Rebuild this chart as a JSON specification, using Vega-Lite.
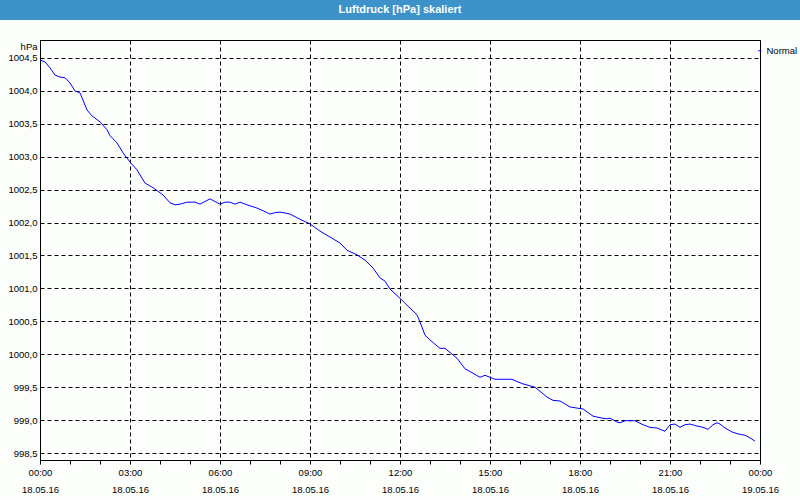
{
  "$schema": "https://vega.github.io/schema/vega-lite/v6.json",
  "background": "#fcfefc",
  "padding": {"left": 0, "top": 0, "right": 0, "bottom": 4},
  "bounds": "flush",
  "center": true,
  "spacing": 20,
  "config": {
    "font": "Liberation Sans",
    "axis": {"labelFont": "Liberation Sans", "labelFontSize": 9.5, "labelColor": "#000000", "titleColor": "#000000", "domainColor": "#000000", "tickColor": "#000000"},
    "legend": {"labelFont": "Liberation Sans", "labelFontSize": 9.5, "labelColor": "#000000"}
  },
  "vconcat": [
    {
      "width": 800,
      "height": 20,
      "view": {"fill": "#3d93c9", "stroke": null},
      "data": {"values": [{"title": "Luftdruck [hPa] skaliert"}]},
      "mark": {"type": "text", "font": "Liberation Sans", "fontSize": 11, "fontWeight": "bold", "color": "#ffffff", "align": "center", "baseline": "middle"},
      "encoding": {"text": {"field": "title", "type": "nominal"}}
    },
    {
      "width": 720,
      "height": 420,
      "view": {"stroke": "#000000", "strokeWidth": 1},
      "data": {"values": [
        {"t": "2016-05-18T00:00:00Z", "p": 1004.47},
        {"t": "2016-05-18T00:10:00Z", "p": 1004.44},
        {"t": "2016-05-18T00:20:00Z", "p": 1004.35},
        {"t": "2016-05-18T00:30:00Z", "p": 1004.24},
        {"t": "2016-05-18T00:40:00Z", "p": 1004.21},
        {"t": "2016-05-18T00:50:00Z", "p": 1004.20},
        {"t": "2016-05-18T01:00:00Z", "p": 1004.12},
        {"t": "2016-05-18T01:10:00Z", "p": 1004.00},
        {"t": "2016-05-18T01:20:00Z", "p": 1003.97},
        {"t": "2016-05-18T01:26:00Z", "p": 1003.86},
        {"t": "2016-05-18T01:34:00Z", "p": 1003.71},
        {"t": "2016-05-18T01:44:00Z", "p": 1003.62},
        {"t": "2016-05-18T02:00:00Z", "p": 1003.53},
        {"t": "2016-05-18T02:14:00Z", "p": 1003.41},
        {"t": "2016-05-18T02:20:00Z", "p": 1003.32},
        {"t": "2016-05-18T02:34:00Z", "p": 1003.21},
        {"t": "2016-05-18T02:46:00Z", "p": 1003.06},
        {"t": "2016-05-18T03:00:00Z", "p": 1002.92},
        {"t": "2016-05-18T03:14:00Z", "p": 1002.80},
        {"t": "2016-05-18T03:30:00Z", "p": 1002.60},
        {"t": "2016-05-18T03:46:00Z", "p": 1002.53},
        {"t": "2016-05-18T04:06:00Z", "p": 1002.42},
        {"t": "2016-05-18T04:20:00Z", "p": 1002.30},
        {"t": "2016-05-18T04:30:00Z", "p": 1002.27},
        {"t": "2016-05-18T04:40:00Z", "p": 1002.28},
        {"t": "2016-05-18T04:54:00Z", "p": 1002.31},
        {"t": "2016-05-18T05:10:00Z", "p": 1002.31},
        {"t": "2016-05-18T05:20:00Z", "p": 1002.28},
        {"t": "2016-05-18T05:40:00Z", "p": 1002.36},
        {"t": "2016-05-18T06:00:00Z", "p": 1002.28},
        {"t": "2016-05-18T06:10:00Z", "p": 1002.31},
        {"t": "2016-05-18T06:20:00Z", "p": 1002.31},
        {"t": "2016-05-18T06:30:00Z", "p": 1002.28},
        {"t": "2016-05-18T06:40:00Z", "p": 1002.31},
        {"t": "2016-05-18T06:54:00Z", "p": 1002.27},
        {"t": "2016-05-18T07:14:00Z", "p": 1002.22},
        {"t": "2016-05-18T07:26:00Z", "p": 1002.18},
        {"t": "2016-05-18T07:40:00Z", "p": 1002.13},
        {"t": "2016-05-18T07:50:00Z", "p": 1002.15},
        {"t": "2016-05-18T08:00:00Z", "p": 1002.16},
        {"t": "2016-05-18T08:20:00Z", "p": 1002.13},
        {"t": "2016-05-18T08:40:00Z", "p": 1002.05},
        {"t": "2016-05-18T09:00:00Z", "p": 1001.98},
        {"t": "2016-05-18T09:20:00Z", "p": 1001.87},
        {"t": "2016-05-18T09:40:00Z", "p": 1001.78},
        {"t": "2016-05-18T10:00:00Z", "p": 1001.69},
        {"t": "2016-05-18T10:14:00Z", "p": 1001.58},
        {"t": "2016-05-18T10:34:00Z", "p": 1001.51},
        {"t": "2016-05-18T10:50:00Z", "p": 1001.43},
        {"t": "2016-05-18T11:06:00Z", "p": 1001.31},
        {"t": "2016-05-18T11:20:00Z", "p": 1001.16},
        {"t": "2016-05-18T11:30:00Z", "p": 1001.11},
        {"t": "2016-05-18T11:40:00Z", "p": 1000.99},
        {"t": "2016-05-18T12:00:00Z", "p": 1000.85},
        {"t": "2016-05-18T12:20:00Z", "p": 1000.70},
        {"t": "2016-05-18T12:34:00Z", "p": 1000.60},
        {"t": "2016-05-18T12:40:00Z", "p": 1000.49},
        {"t": "2016-05-18T12:50:00Z", "p": 1000.29},
        {"t": "2016-05-18T13:04:00Z", "p": 1000.19},
        {"t": "2016-05-18T13:20:00Z", "p": 1000.09},
        {"t": "2016-05-18T13:30:00Z", "p": 1000.09},
        {"t": "2016-05-18T13:46:00Z", "p": 999.99},
        {"t": "2016-05-18T13:54:00Z", "p": 999.94},
        {"t": "2016-05-18T14:10:00Z", "p": 999.78},
        {"t": "2016-05-18T14:24:00Z", "p": 999.72},
        {"t": "2016-05-18T14:40:00Z", "p": 999.65},
        {"t": "2016-05-18T14:50:00Z", "p": 999.68},
        {"t": "2016-05-18T15:10:00Z", "p": 999.62},
        {"t": "2016-05-18T15:44:00Z", "p": 999.62},
        {"t": "2016-05-18T15:56:00Z", "p": 999.58},
        {"t": "2016-05-18T16:06:00Z", "p": 999.55},
        {"t": "2016-05-18T16:30:00Z", "p": 999.50},
        {"t": "2016-05-18T16:54:00Z", "p": 999.35},
        {"t": "2016-05-18T17:06:00Z", "p": 999.30},
        {"t": "2016-05-18T17:20:00Z", "p": 999.29},
        {"t": "2016-05-18T17:40:00Z", "p": 999.20},
        {"t": "2016-05-18T17:56:00Z", "p": 999.18},
        {"t": "2016-05-18T18:06:00Z", "p": 999.17},
        {"t": "2016-05-18T18:26:00Z", "p": 999.06},
        {"t": "2016-05-18T18:44:00Z", "p": 999.03},
        {"t": "2016-05-18T18:54:00Z", "p": 999.02},
        {"t": "2016-05-18T19:00:00Z", "p": 999.03},
        {"t": "2016-05-18T19:14:00Z", "p": 998.97},
        {"t": "2016-05-18T19:20:00Z", "p": 998.96},
        {"t": "2016-05-18T19:30:00Z", "p": 998.99},
        {"t": "2016-05-18T19:50:00Z", "p": 998.99},
        {"t": "2016-05-18T20:06:00Z", "p": 998.93},
        {"t": "2016-05-18T20:20:00Z", "p": 998.89},
        {"t": "2016-05-18T20:34:00Z", "p": 998.88},
        {"t": "2016-05-18T20:50:00Z", "p": 998.83},
        {"t": "2016-05-18T21:00:00Z", "p": 998.93},
        {"t": "2016-05-18T21:10:00Z", "p": 998.94},
        {"t": "2016-05-18T21:20:00Z", "p": 998.89},
        {"t": "2016-05-18T21:30:00Z", "p": 998.93},
        {"t": "2016-05-18T21:40:00Z", "p": 998.94},
        {"t": "2016-05-18T21:54:00Z", "p": 998.91},
        {"t": "2016-05-18T22:06:00Z", "p": 998.89},
        {"t": "2016-05-18T22:16:00Z", "p": 998.86},
        {"t": "2016-05-18T22:26:00Z", "p": 998.93},
        {"t": "2016-05-18T22:34:00Z", "p": 998.96},
        {"t": "2016-05-18T22:40:00Z", "p": 998.94},
        {"t": "2016-05-18T22:50:00Z", "p": 998.88},
        {"t": "2016-05-18T23:04:00Z", "p": 998.82},
        {"t": "2016-05-18T23:16:00Z", "p": 998.79},
        {"t": "2016-05-18T23:30:00Z", "p": 998.77},
        {"t": "2016-05-18T23:40:00Z", "p": 998.73},
        {"t": "2016-05-18T23:50:00Z", "p": 998.68}
      ]},
      "mark": {"type": "line", "strokeWidth": 1, "interpolate": "linear"},
      "encoding": {
        "x": {
          "field": "t", "type": "temporal",
          "scale": {"type": "utc", "domain": [{"year": 2016, "month": 5, "date": 18, "hours": 0, "utc": true}, {"year": 2016, "month": 5, "date": 19, "hours": 0, "utc": true}], "nice": false},
          "axis": {
            "title": null,
            "values": [
              {"year": 2016, "month": 5, "date": 18, "hours": 0, "utc": true},
              {"year": 2016, "month": 5, "date": 18, "hours": 1, "utc": true},
              {"year": 2016, "month": 5, "date": 18, "hours": 2, "utc": true},
              {"year": 2016, "month": 5, "date": 18, "hours": 3, "utc": true},
              {"year": 2016, "month": 5, "date": 18, "hours": 4, "utc": true},
              {"year": 2016, "month": 5, "date": 18, "hours": 5, "utc": true},
              {"year": 2016, "month": 5, "date": 18, "hours": 6, "utc": true},
              {"year": 2016, "month": 5, "date": 18, "hours": 7, "utc": true},
              {"year": 2016, "month": 5, "date": 18, "hours": 8, "utc": true},
              {"year": 2016, "month": 5, "date": 18, "hours": 9, "utc": true},
              {"year": 2016, "month": 5, "date": 18, "hours": 10, "utc": true},
              {"year": 2016, "month": 5, "date": 18, "hours": 11, "utc": true},
              {"year": 2016, "month": 5, "date": 18, "hours": 12, "utc": true},
              {"year": 2016, "month": 5, "date": 18, "hours": 13, "utc": true},
              {"year": 2016, "month": 5, "date": 18, "hours": 14, "utc": true},
              {"year": 2016, "month": 5, "date": 18, "hours": 15, "utc": true},
              {"year": 2016, "month": 5, "date": 18, "hours": 16, "utc": true},
              {"year": 2016, "month": 5, "date": 18, "hours": 17, "utc": true},
              {"year": 2016, "month": 5, "date": 18, "hours": 18, "utc": true},
              {"year": 2016, "month": 5, "date": 18, "hours": 19, "utc": true},
              {"year": 2016, "month": 5, "date": 18, "hours": 20, "utc": true},
              {"year": 2016, "month": 5, "date": 18, "hours": 21, "utc": true},
              {"year": 2016, "month": 5, "date": 18, "hours": 22, "utc": true},
              {"year": 2016, "month": 5, "date": 18, "hours": 23, "utc": true},
              {"year": 2016, "month": 5, "date": 19, "hours": 0, "utc": true}
            ],
            "labelExpr": "utchours(datum.value) % 3 == 0 ? [utcFormat(datum.value, '%H:%M'), utcFormat(datum.value, '%d.%m.%y')] : ''",
            "labelOverlap": false,
            "labelFlush": false,
            "labelPadding": 3,
            "labelLineHeight": 17,
            "tickSize": 4,
            "grid": true,
            "gridColor": "#000000",
            "gridDash": [4, 3],
            "gridWidth": 1,
            "gridOpacity": {"condition": {"test": "utchours(datum.value) % 3 == 0", "value": 1}, "value": 0},
            "domain": true
          }
        },
        "y": {
          "field": "p", "type": "quantitative",
          "scale": {"domain": [998.394, 1004.773], "zero": false, "nice": false},
          "axis": {
            "title": "hPa",
            "titleAngle": 0,
            "titleAlign": "right",
            "titleBaseline": "top",
            "titleX": -3,
            "titleY": 1,
            "titleFont": "Liberation Sans",
            "titleFontSize": 9.5,
            "titleFontWeight": "normal",
            "values": [998.5, 999, 999.5, 1000, 1000.5, 1001, 1001.5, 1002, 1002.5, 1003, 1003.5, 1004, 1004.5],
            "labelExpr": "replace(format(datum.value, '.1f'), '.', ',')",
            "ticks": false,
            "labelPadding": 3,
            "grid": true,
            "gridColor": "#000000",
            "gridDash": [4, 3],
            "gridWidth": 1
          }
        },
        "color": {
          "datum": "Normal",
          "type": "nominal",
          "scale": {"range": ["#0000ff"]},
          "legend": {
            "title": null,
            "orient": "none",
            "legendX": 755,
            "legendY": 46,
            "padding": 0,
            "symbolType": "stroke",
            "symbolSize": 9,
            "symbolStrokeWidth": 1,
            "symbolStrokeColor": "#000000",
            "labelOffset": 2
          }
        }
      }
    }
  ]
}
